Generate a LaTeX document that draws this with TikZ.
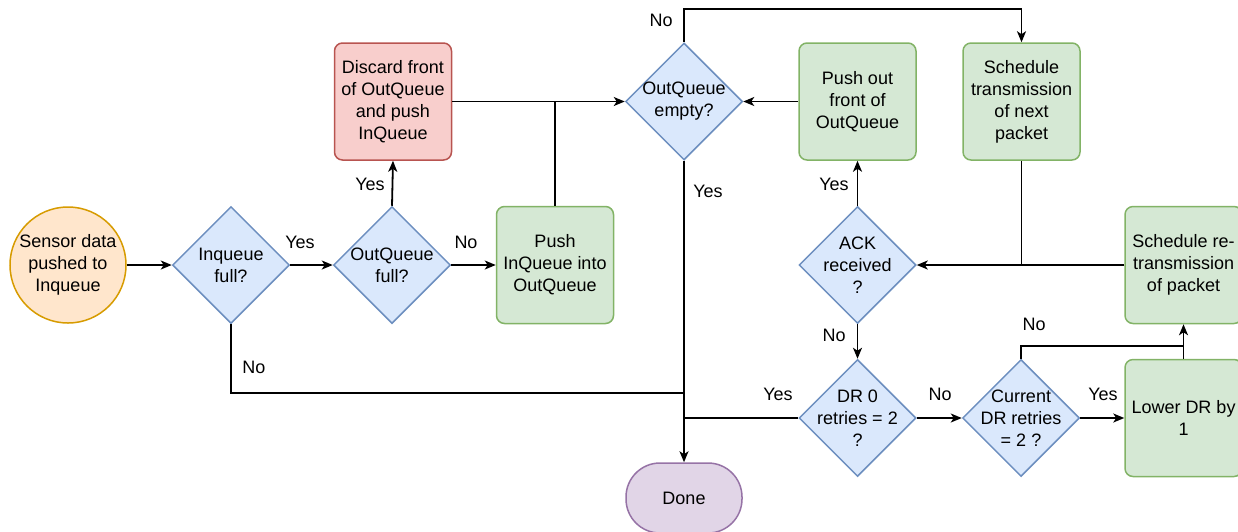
\documentclass[tikz,border=0pt]{standalone}
\usepackage{fontspec}
\setmainfont{Liberation Sans}
\usetikzlibrary{shapes.geometric,arrows.meta}
\definecolor{bfill}{HTML}{DAE8FC}
\definecolor{bline}{HTML}{6C8EBF}
\definecolor{gfill}{HTML}{D5E8D4}
\definecolor{gline}{HTML}{82B366}
\definecolor{rfill}{HTML}{F8CECC}
\definecolor{rline}{HTML}{B85450}
\definecolor{ofill}{HTML}{FFE6CC}
\definecolor{oline}{HTML}{D79B00}
\definecolor{pfill}{HTML}{E1D5E7}
\definecolor{pline}{HTML}{9673A6}
\begin{document}
\begin{tikzpicture}[x=1pt,y=-1pt,
  font=\fontsize{18}{22}\selectfont,
  dia/.style={diamond, draw=bline, fill=bfill, line width=1.5pt, minimum width=117pt, minimum height=117pt, inner sep=0pt},
  dtext/.style={align=center, inner sep=0pt},
  gbox/.style={draw=gline, fill=gfill, rounded corners=8pt, line width=1.5pt, minimum width=117pt, minimum height=117pt, align=center, inner sep=0pt},
  rbox/.style={gbox, draw=rline, fill=rfill},
  conn/.style={line width=1.8pt, black},
  arr/.style={conn, -{Stealth[length=11pt,width=9pt,inset=3pt]}},
  lbl/.style={inner sep=0pt}
]
\useasboundingbox (0,0) rectangle (1238,531);

% nodes
\node[circle, draw=oline, fill=ofill, line width=1.5pt, minimum size=116pt, align=center, inner sep=0pt] (sensor) at (68,265) {Sensor data\\pushed to\\Inqueue};
\node[dia] (inq) at (231,265) {};
\node[dtext] (inqt) at (231,265) {Inqueue\\full?};
\node[dia] (outf) at (392,265) {};
\node[dtext] (outft) at (392,265) {OutQueue\\full?};
\node[rbox] (disc) at (393,101.5) {Discard front\\of OutQueue\\and push\\InQueue};
\node[gbox] (pushin) at (555,265) {Push\\InQueue into\\OutQueue};
\node[dia] (oqe) at (684,101.5) {};
\node[dtext] (oqet) at (684,101.5) {OutQueue\\empty?};
\node[gbox] (pushout) at (857.5,101.5) {Push out\\front of\\OutQueue};
\node[gbox] (sched) at (1021.5,101.5) {Schedule\\transmission\\of next\\packet};
\node[dia] (ack) at (857.5,265) {};
\node[dtext] (ackt) at (857.5,265) {ACK\\received\\?};
\node[gbox] (resched) at (1183.5,265) {Schedule re-\\transmission\\of packet};
\node[dia] (dr0) at (857.5,418) {};
\node[dtext] (dr0t) at (857.5,418) {DR 0\\retries = 2\\?};
\node[dia] (cur) at (1021,418) {};
\node[dtext] (curt) at (1021,418) {Current\\DR retries\\= 2 ?};
\node[gbox] (lower) at (1183.5,418) {Lower DR by\\1};
\node[draw=pline, fill=pfill, line width=1.5pt, rounded corners=34pt, minimum width=116pt, minimum height=70pt, inner sep=0pt] (done) at (684,498) {Done};

% junction coordinates
\coordinate (jpush) at (pushin.north |- disc.east);
\coordinate (jtop) at (684,9);
\coordinate (jsched) at (sched.south |- ack.east);
\coordinate (jlow) at (1183.5,346);
\coordinate (jno) at (684,393);
\coordinate (jyes) at (684,418);

% connectors
\draw[arr] (sensor.east) -- (inq.west);
\draw[arr] (inq.east) -- (outf.west);
\draw[arr] (outf.north) -- (disc.south);
\draw[arr] (outf.east) -- (pushin.west);
\draw[arr] (disc.east) -- (oqe.west);
\draw[conn] (pushin.north) -- (jpush);
\draw[arr] (oqe.north) -- (jtop) -| (sched.north);
\draw[arr] (pushout.west) -- (oqe.east);
\draw[arr] (ack.north) -- (pushout.south);
\draw[conn] (sched.south) -- (jsched);
\draw[arr] (resched.west) -- (ack.east);
\draw[arr] (ack.south) -- (dr0.north);
\draw[arr] (dr0.east) -- (cur.west);
\draw[arr] (cur.east) -- (lower.west);
\draw[arr] (cur.north) |- (jlow) -- (resched.south);
\draw[conn] (lower.north) -- (jlow);
\draw[conn] (dr0.west) -- (jyes);
\draw[conn] (inq.south) |- (jno);
\draw[arr] (oqe.south) -- (done.north);

% labels
\node[lbl] (l1) at (300,242) {Yes};
\node[lbl] (l2) at (370,184) {Yes};
\node[lbl] (l3) at (466,242) {No};
\node[lbl] (l4) at (661,20) {No};
\node[lbl] (l5) at (708,191) {Yes};
\node[lbl] (l6) at (834,184) {Yes};
\node[lbl] (l7) at (834,335) {No};
\node[lbl] (l8) at (254,367) {No};
\node[lbl] (l9) at (778,394) {Yes};
\node[lbl] (l10) at (940,394) {No};
\node[lbl] (l11) at (1103,394) {Yes};
\node[lbl] (l12) at (1034,324) {No};
\end{tikzpicture}
\end{document}
